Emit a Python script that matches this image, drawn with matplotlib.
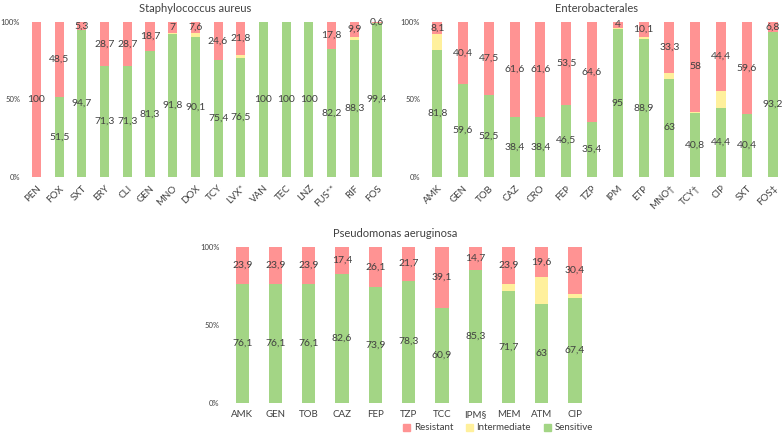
import matplotlib
matplotlib.use("Agg")
import matplotlib.pyplot as plt
from matplotlib.patches import Patch

plt.rcParams['font.family'] = ['Lato', 'DejaVu Sans']

# Staphylococcus aureus
sa_drugs = ['PEN', 'FOX', 'SXT', 'ERY', 'CLI', 'GEN', 'MNO', 'DOX', 'TCY', 'LVX*',
            'VAN', 'TEC', 'LNZ', 'FUS**', 'RIF', 'FOS']
sa_sens = [0, 51.5, 94.7, 71.3, 71.3, 81.3, 91.8, 90.1, 75.4, 76.5, 100, 100, 100, 82.2, 88.3, 99.4]
sa_res = [100, 48.5, 5.3, 28.7, 28.7, 18.7, 7, 7.6, 24.6, 21.8, 0, 0, 0, 17.8, 9.9, 0.6]

# Enterobacterales
en_drugs = ['AMK', 'GEN', 'TOB', 'CAZ', 'CRO', 'FEP', 'TZP', 'IPM', 'ETP', 'MNO\u2020',
            'TCY\u2020', 'CIP', 'SXT', 'FOS\u2021']
en_sens = [81.8, 59.6, 52.5, 38.4, 38.4, 46.5, 35.4, 95, 88.9, 63, 40.8, 44.4, 40.4, 93.2]
en_res = [8.1, 40.4, 47.5, 61.6, 61.6, 53.5, 64.6, 4, 10.1, 33.3, 58, 44.4, 59.6, 6.8]

# Pseudomonas aeruginosa
pa_drugs = ['AMK', 'GEN', 'TOB', 'CAZ', 'FEP', 'TZP', 'TCC', 'IPM\u00a7', 'MEM', 'ATM', 'CIP']
pa_sens = [76.1, 76.1, 76.1, 82.6, 73.9, 78.3, 60.9, 85.3, 71.7, 63, 67.4]
pa_res = [23.9, 23.9, 23.9, 17.4, 26.1, 21.7, 39.1, 14.7, 23.9, 19.6, 30.4]

RED = '#FF9393'
YEL = '#FFF09C'
GRN = '#A3D585'
TXT = '#404040'

W, H = 784, 433
fig = plt.figure(figsize=(W / 100, H / 100), dpi=100)


def box(l, t, r, b):
    return [l / W, 1 - b / H, (r - l) / W, (b - t) / H]


def fmt(v):
    return f"{v:g}".replace('.', ',')


def panel(rect, drugs, sens, res, title, tx, xlim, rot, width):
    ax = fig.add_axes(rect)
    inter = [max(0.0, round(100 - s - r, 1)) for s, r in zip(sens, res)]
    x = list(range(len(drugs)))
    ax.bar(x, sens, width, color=GRN)
    ax.bar(x, inter, width, bottom=sens, color=YEL)
    tops = [s + i for s, i in zip(sens, inter)]
    ax.bar(x, res, width, bottom=tops, color=RED)
    for xi, s, t, r in zip(x, sens, tops, res):
        if s > 0:
            ax.text(xi, s / 2, fmt(s), ha='center', va='center', fontsize=7.5, color=TXT)
        if r > 0:
            ax.text(xi, t + r / 2, fmt(r), ha='center', va='center', fontsize=7.5, color=TXT)
    ax.set_xlim(*xlim)
    ax.set_ylim(0, 100)
    ax.set_yticks([0, 50, 100])
    ax.set_yticklabels(['0%', '50%', '100%'], fontsize=5.5, color=TXT)
    ax.set_xticks(x)
    if rot:
        ax.set_xticklabels(drugs, rotation=45, ha='right', rotation_mode='anchor',
                           fontsize=7, color=TXT)
    else:
        ax.set_xticklabels(drugs, fontsize=7, color=TXT)
    ax.tick_params(axis='x', length=0, pad=5)
    ax.tick_params(axis='y', length=0, pad=2)
    for sp in ax.spines.values():
        sp.set_visible(False)
    ax.set_title(title, fontsize=8, color=TXT, pad=7, x=tx)
    return ax


panel(box(22.9, 21.7, 390.6, 176.7), sa_drugs, sa_sens, sa_res,
      'Staphylococcus aureus', 0.468, (-0.6, 15.6), True, 0.4)
panel(box(423.0, 21.7, 781.6, 176.7), en_drugs, en_sens, en_res,
      'Enterobacterales', 0.485, (-0.55, 13.35), True, 0.39)
panel(box(222.3, 246.7, 595, 402.7), pa_drugs, pa_sens, pa_res,
      'Pseudomonas aeruginosa', 0.463, (-0.6, 10.6), False, 0.4)

handles = [Patch(color=RED, label='Resistant'),
           Patch(color=YEL, label='Intermediate'),
           Patch(color=GRN, label='Sensitive')]
fig.legend(handles=handles, loc='center', bbox_to_anchor=(498 / W, 1 - 428 / H),
           ncol=3, frameon=False, fontsize=7, handlelength=0.7, handleheight=0.7,
           handletextpad=0.4, columnspacing=1.3, labelcolor=TXT)

fig.savefig('out.png', dpi=100, facecolor='white')
